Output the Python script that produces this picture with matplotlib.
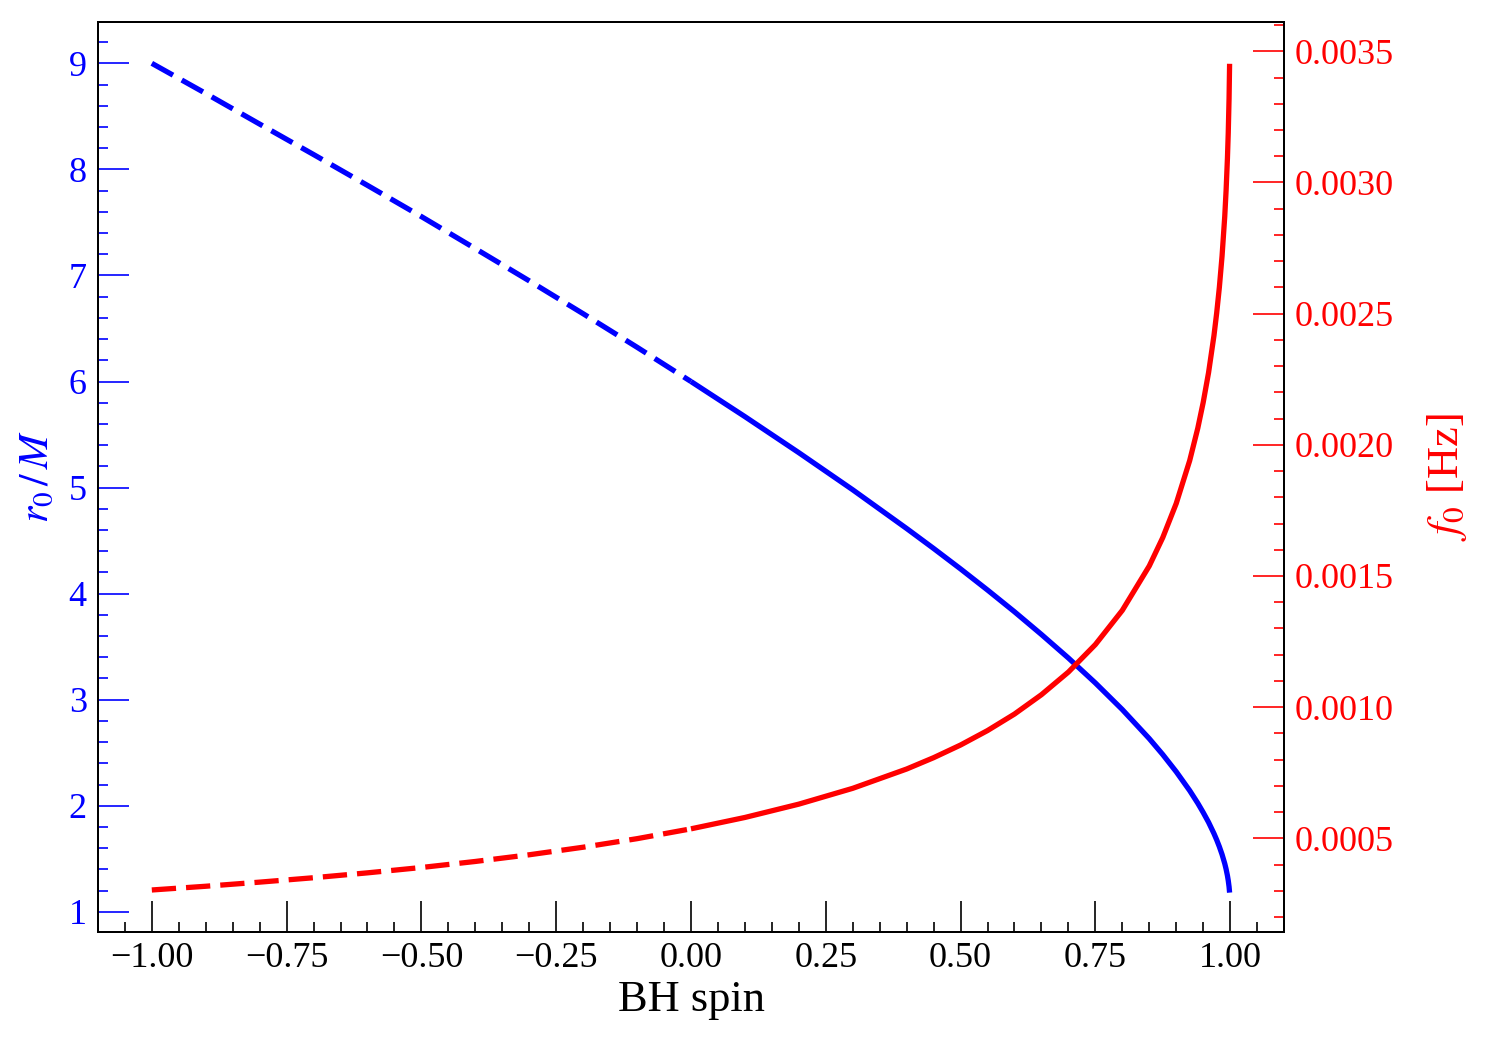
import matplotlib
matplotlib.use("Agg")
import matplotlib.pyplot as plt
from matplotlib.ticker import MultipleLocator, FormatStrFormatter

plt.rcParams['font.family'] = ['Liberation Serif', 'DejaVu Serif']
plt.rcParams['mathtext.fontset'] = 'stix'

# BH spin values
spin = [-1.0, -0.9, -0.8, -0.7, -0.6, -0.5, -0.4, -0.3, -0.2, -0.1, 0.0,
        0.1, 0.2, 0.3, 0.4, 0.45, 0.5, 0.55, 0.6, 0.65, 0.7, 0.75, 0.8, 0.85, 0.875,
        0.9, 0.925, 0.94, 0.95, 0.96, 0.97, 0.975, 0.98, 0.985, 0.99, 0.9925,
        0.995, 0.9965, 0.998, 0.999]
# r0 / M
r0 = [9.000, 8.716, 8.427, 8.140, 7.849, 7.555, 7.253, 6.949, 6.639, 6.323, 6.000,
      5.669, 5.329, 4.979, 4.614, 4.426, 4.233, 4.034, 3.829, 3.615, 3.393, 3.158,
      2.907, 2.633, 2.483, 2.321, 2.143, 2.024, 1.937, 1.844, 1.738, 1.679, 1.614,
      1.541, 1.455, 1.403, 1.341, 1.295, 1.237, 1.181]
# f0 [Hz]
f0 = [0.0003031, 0.0003173, 0.0003330, 0.0003498, 0.0003684, 0.0003888, 0.0004118,
      0.0004373, 0.0004661, 0.0004987, 0.0005362,
      0.0005795, 0.0006303, 0.0006906, 0.0007642, 0.0008074, 0.0008557, 0.0009108,
      0.0009737, 0.0010475, 0.0011338, 0.0012386, 0.0013690, 0.0015382, 0.0016463,
      0.0017764, 0.0019401, 0.0020634, 0.0021613, 0.0022754, 0.0024164, 0.0025017,
      0.0026002, 0.0027193, 0.0028706, 0.0029694, 0.0030927, 0.0031891, 0.0033196,
      0.0034525]

split = spin.index(0.0)
BLUE = (0, 0, 1)
RED = (1, 0, 0)

fig = plt.figure(figsize=(15, 10.5), dpi=100)
ax = fig.add_axes([0.0653, 0.1124, 0.7907, 0.8667])
ax2 = ax.twinx()

lw = 3.8
ax.plot(spin[:split + 1], r0[:split + 1], color=BLUE, lw=lw, dashes=(4.6, 1.9))
ax.plot(spin[split:], r0[split:], color=BLUE, lw=lw, solid_capstyle='butt',
        solid_joinstyle='round')
ax2.plot(spin[:split + 1], f0[:split + 1], color=RED, lw=lw, dashes=(4.6, 1.9))
ax2.plot(spin[split:], f0[split:], color=RED, lw=lw, solid_capstyle='butt',
         solid_joinstyle='round')

ax.set_xlim(-1.0999, 1.0999)
ax.set_ylim(0.81, 9.39)
ax2.set_ylim(0.000143, 0.003612)

fs = 26
ax.xaxis.set_major_locator(MultipleLocator(0.25))
ax.xaxis.set_minor_locator(MultipleLocator(0.05))
ax.yaxis.set_major_locator(MultipleLocator(1))
ax.yaxis.set_minor_locator(MultipleLocator(0.2))
ax2.yaxis.set_major_locator(MultipleLocator(0.0005))
ax2.yaxis.set_minor_locator(MultipleLocator(0.0001))
ax2.yaxis.set_major_formatter(FormatStrFormatter('%.4f'))

ax.tick_params(axis='x', which='both', direction='in', top=False, colors='black',
               labelsize=fs, pad=7)
ax.tick_params(axis='x', which='major', length=22, width=1.2)
ax.tick_params(axis='x', which='minor', length=7.5, width=1.2)
ax.tick_params(axis='y', which='both', direction='in', right=False, colors=BLUE,
               labelsize=fs, pad=8)
ax.tick_params(axis='y', which='major', length=22, width=1.2)
ax.tick_params(axis='y', which='minor', length=7.5, width=1.2)
ax2.tick_params(axis='y', which='both', direction='in', left=False, colors=RED,
                labelsize=fs, pad=8)
ax2.tick_params(axis='y', which='major', length=22, width=1.2)
ax2.tick_params(axis='y', which='minor', length=7.5, width=1.2)

for a in (ax, ax2):
    for s in a.spines.values():
        s.set_color('black')
        s.set_linewidth(1.4)

ax.set_xlabel('BH spin', fontsize=32, labelpad=4)
ax.set_ylabel(r'$r_0\,/\,M$', fontsize=30, color=BLUE, labelpad=8)
ax2.set_ylabel(r'$f_0$ [Hz]', fontsize=32, color=RED, labelpad=22)

fig.savefig('out.png', dpi=100)
